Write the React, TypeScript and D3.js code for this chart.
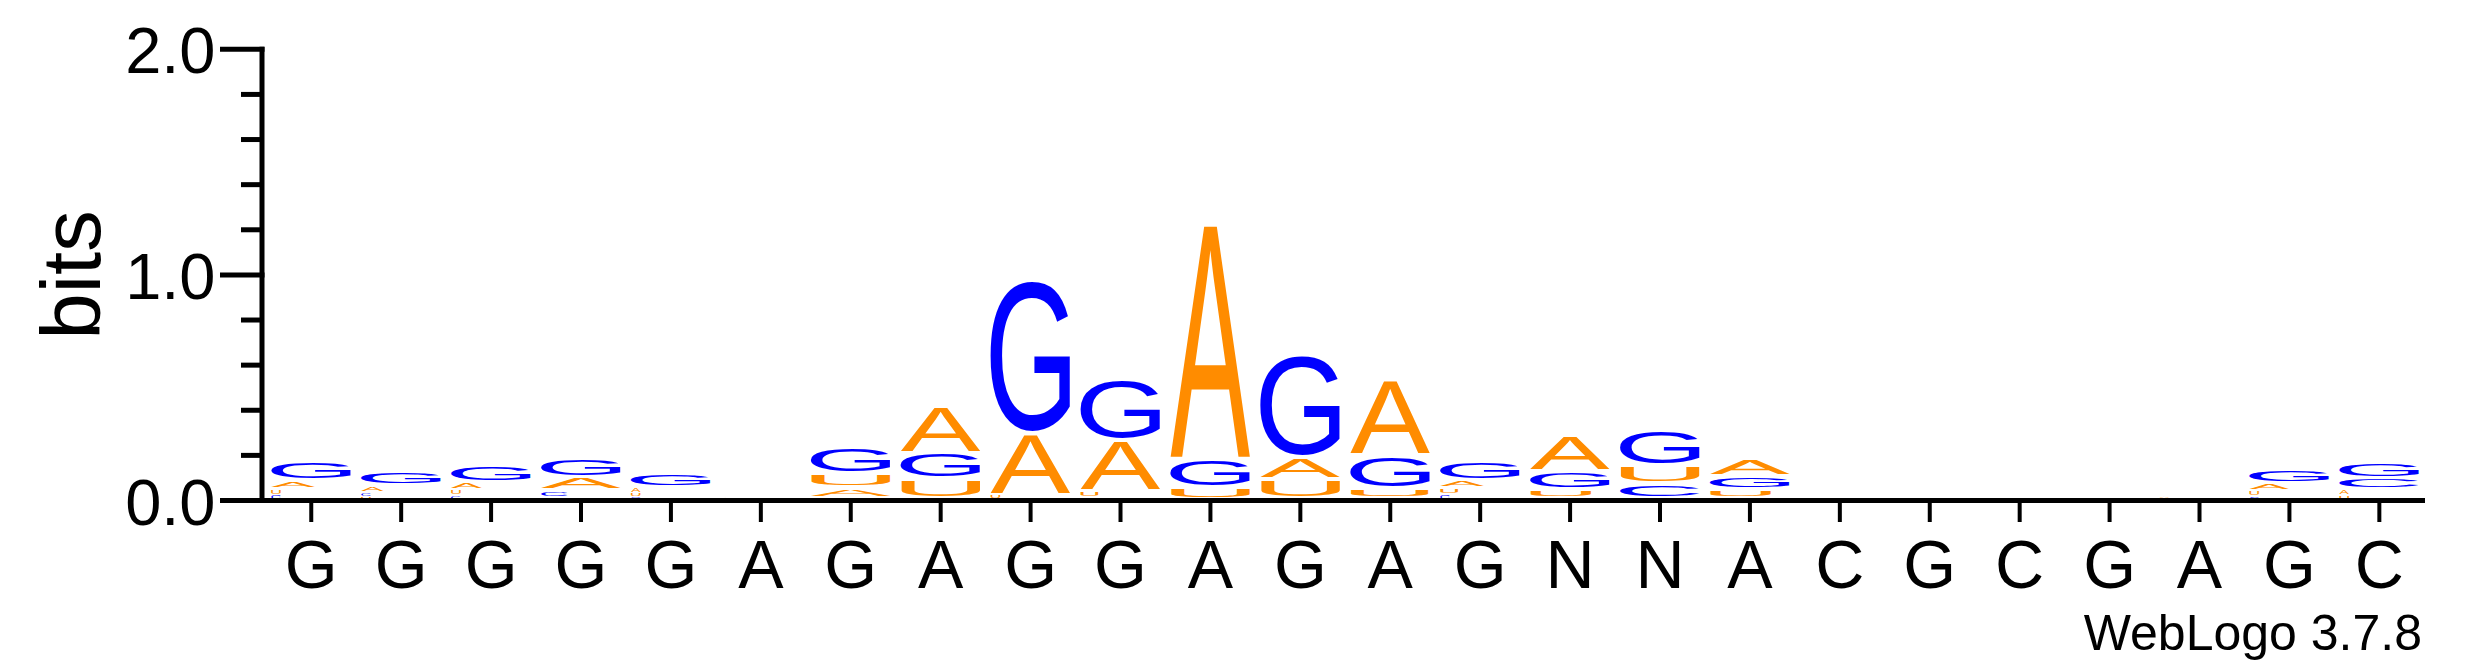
import { useMemo } from 'react';
import * as d3 from 'd3';

const WIDTH = 2475;
const HEIGHT = 667;
const FONT = '"Liberation Sans", Arial, Helvetica, sans-serif';

// Column labels under the logo
const LABELS = ['G', 'G', 'G', 'G', 'G', 'A', 'G', 'A', 'G', 'G', 'A', 'G', 'A', 'G', 'N', 'N', 'A', 'C', 'G', 'C', 'G', 'A', 'G', 'C'];

// Height (bits) of each base in every column
const BITS_A = [0.036, 0.031, 0.033, 0.06, 0.024, 0.012, 0.045, 0.211, 0.272, 0.225, 1.04, 0.096, 0.335, 0.036, 0.16, 0.01, 0.081, 0, 0, 0, 0, 0.012, 0.035, 0.027];
const BITS_C = [0.025, 0.02, 0.022, 0.032, 0.015, 0, 0.012, 0.01, 0.005, 0.012, 0.005, 0.01, 0.01, 0.025, 0.01, 0.065, 0.01, 0, 0, 0, 0, 0.01, 0.017, 0.05];
const BITS_G = [0.086, 0.065, 0.075, 0.086, 0.061, 0, 0.115, 0.114, 0.679, 0.27, 0.128, 0.458, 0.146, 0.09, 0.08, 0.155, 0.058, 0, 0.012, 0, 0.01, 0, 0.064, 0.072];
const BITS_U = [0.028, 0.016, 0.028, 0.013, 0.02, 0.006, 0.064, 0.087, 0.02, 0.03, 0.052, 0.086, 0.044, 0.03, 0.04, 0.08, 0.04, 0, 0, 0, 0, 0, 0.025, 0.022];

const Y_TICKS = [0, 1, 2];
const Y_TICK_LABELS = ['0.0', '1.0', '2.0'];
const Y_MINOR_TICKS = [0.2, 0.4, 0.6, 0.8, 1.2, 1.4, 1.6, 1.8];

const BASES = [
    { base: 'A', bits: BITS_A, color: '#FF8C00' },
    { base: 'C', bits: BITS_C, color: '#0000FF' },
    { base: 'G', bits: BITS_G, color: '#0000FF' },
    { base: 'U', bits: BITS_U, color: '#FF8C00' },
];

// tight glyph bounds at 100px, used to stretch each letter into its box
function measureGlyphs() {
    const ctx = document.createElement('canvas').getContext('2d')!;
    ctx.font = `100px ${FONT}`;
    const out: Record<string, { left: number; right: number; ascent: number; descent: number }> = {};
    BASES.forEach(b => {
        const m = ctx.measureText(b.base);
        out[b.base] = {
            left: m.actualBoundingBoxLeft,
            right: m.actualBoundingBoxRight,
            ascent: m.actualBoundingBoxAscent,
            descent: m.actualBoundingBoxDescent,
        };
    });
    return out;
}

export default function App() {
    const glyphs = useMemo(measureGlyphs, []);

    const axisX = 262;
    const x = d3.scaleBand<number>()
        .domain(d3.range(LABELS.length))
        .range([266.3, 2424.3])
        .paddingInner(0.11)
        .paddingOuter(0.055);
    const y = d3.scaleLinear().domain([0, 2]).range([500.5, 49.3]);
    const bw = x.bandwidth();

    const letters: JSX.Element[] = [];
    LABELS.forEach((_, i) => {
        const stack = BASES
            .map(b => ({ ...b, v: b.bits[i] }))
            .filter(d => d.v > 0)
            .sort((a, b) => a.v - b.v);
        let cum = 0;
        stack.forEach(d => {
            const yBottom = y(cum);
            const yTop = y(cum + d.v);
            cum += d.v;
            const boxH = yBottom - yTop;
            const pad = Math.min(2, boxH * 0.2);
            const gh = Math.max(boxH - 2 * pad, 0.8);
            // very small letters come out narrow, at the left of the column
            const frac = Math.max(0.12, Math.min(1, (gh - 3.5) / 2.5));
            const w = bw * frac;
            const g = glyphs[d.base];
            const sx = w / (g.left + g.right);
            const sy = gh / (g.ascent + g.descent);
            letters.push(
                <text
                    key={`${i}-${d.base}`}
                    transform={`translate(${x(i)},${yTop + pad}) scale(${sx},${sy})`}
                    x={g.left}
                    y={g.ascent}
                    fontSize={100}
                    fill={d.color}
                >
                    {d.base}
                </text>
            );
        });
    });

    return (
        <svg
            width={WIDTH}
            height={HEIGHT}
            style={{ position: 'absolute', left: 0, top: 0, background: '#fff' }}
            fontFamily={FONT}
        >
            <rect width={WIDTH} height={HEIGHT} fill="#fff" />
            <g>{letters}</g>

            {/* y axis */}
            <line x1={axisX} x2={axisX} y1={y(2) - 2.5} y2={y(0) + 2.5} stroke="#000" strokeWidth={5} />
            {Y_TICKS.map(t => (
                <line key={t} x1={220} x2={axisX + 2.5} y1={y(t)} y2={y(t)} stroke="#000" strokeWidth={5} />
            ))}
            {Y_MINOR_TICKS.map(t => (
                <line key={t} x1={241} x2={axisX} y1={y(t)} y2={y(t)} stroke="#000" strokeWidth={5} />
            ))}
            {Y_TICKS.map((t, k) => (
                <text key={t} x={215.5} y={y(t) + 24} fontSize={65} textAnchor="end" fill="#000">
                    {Y_TICK_LABELS[k]}
                </text>
            ))}
            <text transform={`translate(100,${y(1)}) rotate(-90)`} fontSize={83} textAnchor="middle" fill="#000">
                bits
            </text>

            {/* x axis */}
            <line x1={axisX} x2={2425} y1={y(0)} y2={y(0)} stroke="#000" strokeWidth={5} />
            {LABELS.map((lab, i) => {
                const cx = (x(i) ?? 0) + bw / 2;
                return (
                    <g key={i}>
                        <line x1={cx} x2={cx} y1={y(0)} y2={y(0) + 21.5} stroke="#000" strokeWidth={4} />
                        <text x={cx} y={588.3} fontSize={68} textAnchor="middle" fill="#000">
                            {lab}
                        </text>
                    </g>
                );
            })}

            <text x={2422} y={650} fontSize={50} textAnchor="end" fill="#000">
                WebLogo 3.7.8
            </text>
        </svg>
    );
}
